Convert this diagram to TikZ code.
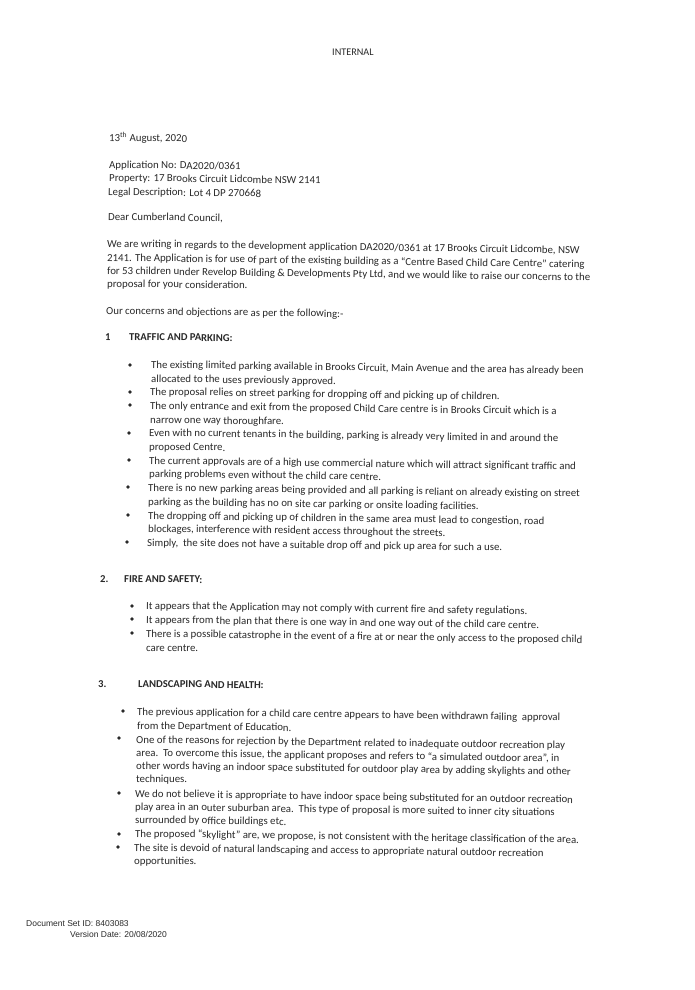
\documentclass[tikz,border=0pt]{standalone}
\usepackage{fontspec}
\setmainfont{Carlito}
\newfontfamily\footfont{Liberation Sans}
\definecolor{inkgray}{gray}{0.16}
\begin{document}
\begin{tikzpicture}[x=1pt,y=-1pt,
textline/.style ={anchor=base west, inner sep=0pt, rotate=-0.8,
  text=inkgray, font=\fontsize{10.8}{12}\selectfont
},
headline/.style ={textline, font=\fontsize{10.6}{12}\selectfont\bfseries
},
footline/.style ={anchor=base west, inner sep=0pt, text=inkgray,
  font=\footfont\fontsize{8.5}{9}\selectfont
},
bulletmark/.style ={circle, fill=inkgray, inner sep=0pt, minimum size=3.6pt
}]
\useasboundingbox (0,0) rectangle (694,990);
\node (internal) at (332,56) [textline, rotate=0.8, font=\fontsize{10.2}{12}\selectfont] {INTERNAL};
% letter head
\node (date) at (109,141) [textline] {13\textsuperscript{th} August, 2020};
\node (appno) at (109,168) [textline] {Application No: DA2020/0361};
\node (property) at (109,181) [textline] {Property: 17 Brooks Circuit Lidcombe NSW 2141};
\node (legal) at (108,195) [textline] {Legal Description: Lot 4 DP 270668};
\node (dear) at (108,220) [textline] {Dear Cumberland Council,};
\node (introa) at (107,247) [textline] {We are writing in regards to the development application DA2020/0361 at 17 Brooks Circuit Lidcombe, NSW};
\node (introb) at (107,261) [textline] {2141. The Application is for use of part of the existing building as a ``Centre Based Child Care Centre'' catering};
\node (introc) at (107,274) [textline] {for 53 children under Revelop Building \& Developments Pty Ltd, and we would like to raise our concerns to the};
\node (introd) at (107,287) [textline] {proposal for your consideration.};
\node (concerns) at (106,314) [textline] {Our concerns and objections are as per the following:-};
% section 1
\node (numa) at (105,340) [headline] {1};
\node (heada) at (129,340) [headline] {TRAFFIC AND PARKING:};
\node (ba) at (130,365) [bulletmark] {};
\node (aa) at (151,368) [textline] {The existing limited parking available in Brooks Circuit, Main Avenue and the area has already been};
\node (ab) at (151,382) [textline] {allocated to the uses previously approved.};
\node (bb) at (130,392) [bulletmark] {};
\node (ac) at (150,395) [textline] {The proposal relies on street parking for dropping off and picking up of children.};
\node (bc) at (130,405) [bulletmark] {};
\node (ad) at (150,409) [textline] {The only entrance and exit from the proposed Child Care centre is in Brooks Circuit which is a};
\node (ae) at (150,423) [textline] {narrow one way thoroughfare.};
\node (bd) at (129,433) [bulletmark] {};
\node (af) at (149,436) [textline] {Even with no current tenants in the building, parking is already very limited in and around the};
\node (ag) at (149,450) [textline] {proposed Centre.};
\node (be) at (129,460) [bulletmark] {};
\node (ah) at (149,464) [textline] {The current approvals are of a high use commercial nature which will attract significant traffic and};
\node (ai) at (149,477) [textline] {parking problems even without the child care centre.};
\node (bf) at (128,487) [bulletmark] {};
\node (aj) at (148,491) [textline] {There is no new parking areas being provided and all parking is reliant on already existing on street};
\node (ak) at (148,505) [textline] {parking as the building has no on site car parking or onsite loading facilities.};
\node (bg) at (128,515) [bulletmark] {};
\node (al) at (148,519) [textline] {The dropping off and picking up of children in the same area must lead to congestion, road};
\node (am) at (148,532) [textline] {blockages, interference with resident access throughout the streets.};
\node (bh) at (127,542) [bulletmark] {};
\node (an) at (147,546) [textline] {Simply,\ \ the site does not have a suitable drop off and pick up area for such a use.};
% section 2
\node (numb) at (100,582) [headline] {2.};
\node (headb) at (124,582) [headline] {FIRE AND SAFETY:};
\node (bi) at (132,606) [bulletmark] {};
\node (ba1) at (146,609) [textline] {It appears that the Application may not comply with current fire and safety regulations.};
\node (bj) at (132,619) [bulletmark] {};
\node (ba2) at (146,623) [textline] {It appears from the plan that there is one way in and one way out of the child care centre.};
\node (bk) at (132,633) [bulletmark] {};
\node (ba3) at (146,637) [textline] {There is a possible catastrophe in the event of a fire at or near the only access to the proposed child};
\node (ba4) at (146,651) [textline] {care centre.};
% section 3
\node (numc) at (98,687) [headline] {3.};
\node (headc) at (138,687) [headline] {LANDSCAPING AND HEALTH:};
\node (bl) at (123,711) [bulletmark] {};
\node (ca) at (137,715) [textline] {The previous application for a child care centre appears to have been withdrawn failing \ approval};
\node (cb) at (137,729) [textline] {from the Department of Education.};
\node (bm) at (119,738) [bulletmark] {};
\node (cc) at (136,743) [textline] {One of the reasons for rejection by the Department related to inadequate outdoor recreation play};
\node (cd) at (136,756) [textline] {area.\ \ To overcome this issue, the applicant proposes and refers to ``a simulated outdoor area'', in};
\node (ce) at (136,769) [textline] {other words having an indoor space substituted for outdoor play area by adding skylights and other};
\node (cf) at (136,782) [textline] {techniques.};
\node (bn) at (119,793) [bulletmark] {};
\node (cg) at (135,797) [textline] {We do not believe it is appropriate to have indoor space being substituted for an outdoor recreation};
\node (ch) at (135,810) [textline] {play area in an outer suburban area.\ \ This type of proposal is more suited to inner city situations};
\node (ci) at (135,823) [textline] {surrounded by office buildings etc.};
\node (bo) at (119,834) [bulletmark] {};
\node (cj) at (135,837) [textline] {The proposed ``skylight'' are, we propose, is not consistent with the heritage classification of the area.};
\node (bp) at (118,847) [bulletmark] {};
\node (ck) at (134,851) [textline] {The site is devoid of natural landscaping and access to appropriate natural outdoor recreation};
\node (cl) at (134,864) [textline] {opportunities.};
% footer
\node (docset) at (26,926) [footline] {Document Set ID: 8403083};
\node (version) at (70,937) [footline] {Version Date: 20/08/2020};
\end{tikzpicture}
\end{document}
